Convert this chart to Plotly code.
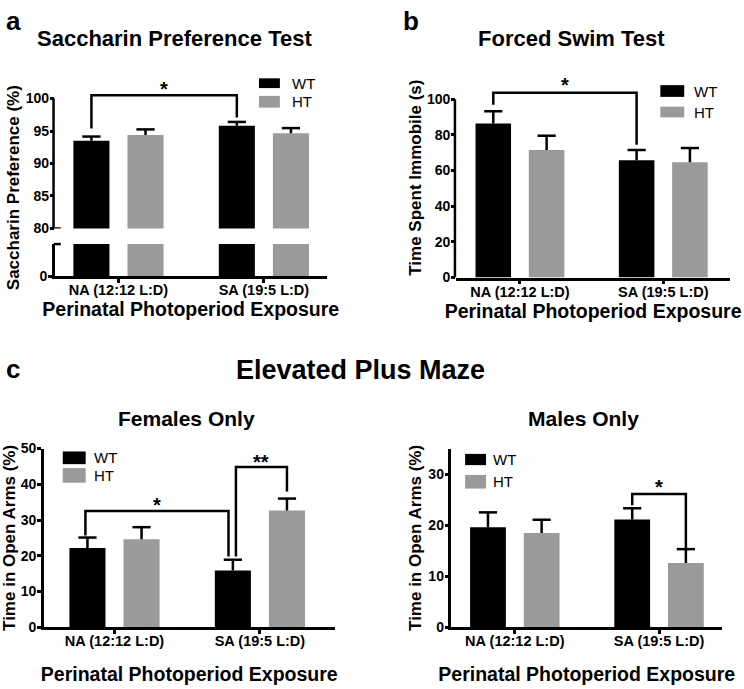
import plotly.graph_objects as go

W, H = 744, 689
FONT = "Liberation Sans, Arial, Helvetica, sans-serif"
BLACK = "#000000"
GRAY = "#9a9a9a"

# ---------------- data ----------------
categories = ["NA (12:12 L:D)", "SA (19:5 L:D)"]
series_names = ["WT", "HT"]

# a: Saccharin Preference Test (%)
sp_wt = [93.5, 95.8]
sp_wt_err = [0.65, 0.6]
sp_ht = [94.4, 94.65]
sp_ht_err = [0.85, 0.8]
sp_ticks_upper = [80, 85, 90, 95, 100]
sp_ticks_lower = [0]

# b: Forced Swim Test (s)
fst_wt = [86.3, 65.7]
fst_wt_err = [6.9, 5.8]
fst_ht = [71.5, 64.6]
fst_ht_err = [8.0, 8.0]
fst_ticks = [0, 20, 40, 60, 80, 100]

# c: Elevated Plus Maze, females (%)
epm_f_wt = [22.2, 15.9]
epm_f_wt_err = [2.9, 3.0]
epm_f_ht = [24.6, 32.7]
epm_f_ht_err = [3.4, 3.3]
epm_f_ticks = [0, 10, 20, 30, 40, 50]

# c: Elevated Plus Maze, males (%)
epm_m_wt = [19.6, 21.1]
epm_m_wt_err = [2.9, 2.2]
epm_m_ht = [18.45, 12.6]
epm_m_ht_err = [2.6, 2.7]
epm_m_ticks = [0, 10, 20, 30]

# significance brackets:
# ((group, series, nudge), (group, series, nudge), top, left end, right end, label, label y)
sp_brackets = [((0, 0, 0), (1, 0, 0), 100.5, 95.4, 97.1, "*", 101.4)]
fst_brackets = [((0, 0, 0), (1, 0, 0), 103.6, 96.9, 74.4, "*", 107.8)]
epm_f_brackets = [((0, 0, -0.014), (1, 0, -0.03), 32.5, 25.7, 19.8, "*", 34.3),
                  ((1, 0, 0.021), (1, 1, 0), 44.8, 19.8, 38.0, "**", 46.2)]
epm_m_brackets = [((1, 0, 0), (1, 1, 0), 26.1, 23.9, 15.3, "*", 27.5)]

# ---------------- layout helpers ----------------
OFF = 0.186
BW = 0.248


def px(x):
    return x / W


def py(y):
    return 1 - y / H


def bx(g, s, nudge=0.0):
    return g + (-OFF if s == 0 else OFF) + nudge


fig = go.Figure()


def add_bars(xa, ya, wt, wt_err, ht, ht_err, errors=True):
    for s, (vals, errs, col, name) in enumerate(
            [(wt, wt_err, BLACK, "WT"), (ht, ht_err, GRAY, "HT")]):
        xs = [bx(g, s) for g in range(len(categories))]
        fig.add_trace(go.Bar(
            x=xs, y=vals, width=BW, marker=dict(color=col, line=dict(width=0)),
            name=name, showlegend=False, xaxis=xa, yaxis=ya,
            error_y=dict(type="data", symmetric=False, array=errs,
                         arrayminus=[0] * len(errs), width=0,
                         thickness=2.5, color=BLACK) if errors else None,
            hovertext=categories, hoverinfo="text+y"))
        if errors:
            fig.add_trace(go.Scatter(
                x=xs, y=[v + e for v, e in zip(vals, errs)], mode="markers",
                marker=dict(symbol="line-ew", size=13,
                            line=dict(width=2.5, color=BLACK)),
                showlegend=False, hoverinfo="skip", xaxis=xa, yaxis=ya,
                cliponaxis=False))


def add_brackets(xa, ya, brackets):
    for (g1, s1, n1), (g2, s2, n2), top, y1, y2, label, ly in brackets:
        x1 = bx(g1, s1, n1)
        x2 = bx(g2, s2, n2)
        fig.add_trace(go.Scatter(
            x=[x1, x1, x2, x2], y=[y1, top, top, y2], mode="lines",
            line=dict(color=BLACK, width=2.5), showlegend=False,
            hoverinfo="skip", xaxis=xa, yaxis=ya, cliponaxis=False))
        fig.add_annotation(x=(x1 + x2) / 2, y=ly, xref=xa, yref=ya,
                           text=label, showarrow=False,
                           font=dict(family=FONT, size=20, color=BLACK,
                                     weight="bold"),
                           xanchor="center", yanchor="middle")


# panel a (broken axis: y upper, y2 lower)
add_bars("x", "y", sp_wt, sp_wt_err, sp_ht, sp_ht_err)
add_bars("x", "y2", sp_wt, sp_wt_err, sp_ht, sp_ht_err, errors=False)
add_brackets("x", "y", sp_brackets)
# panel b
add_bars("x2", "y3", fst_wt, fst_wt_err, fst_ht, fst_ht_err)
add_brackets("x2", "y3", fst_brackets)
# panel c females
add_bars("x3", "y4", epm_f_wt, epm_f_wt_err, epm_f_ht, epm_f_ht_err)
add_brackets("x3", "y4", epm_f_brackets)
# panel c males
add_bars("x4", "y5", epm_m_wt, epm_m_wt_err, epm_m_ht, epm_m_ht_err)
add_brackets("x4", "y5", epm_m_brackets)

tickfont = dict(family=FONT, size=14, color=BLACK, weight="bold")
xtickfont = dict(family=FONT, size=14.5, color=BLACK, weight="bold")
titlefont = dict(family=FONT, size=19.5, color=BLACK, weight="bold")
ytitlefont = dict(family=FONT, size=17, color=BLACK, weight="bold")

common_axis = dict(showline=True, linewidth=2.5, linecolor=BLACK,
                   ticks="outside", ticklen=5, tickwidth=2.5, tickcolor=BLACK,
                   showgrid=False, zeroline=False, tickfont=tickfont,
                   fixedrange=True)


def xaxis(domain, rng, anchor, standoff):
    return dict(common_axis, domain=domain, range=rng, anchor=anchor,
                tickvals=list(range(len(categories))), ticktext=categories,
                tickfont=xtickfont, ticklen=4, ticklabelstandoff=-5,
                title=dict(text="Perinatal Photoperiod Exposure",
                           font=titlefont, standoff=standoff))


def yaxis(domain, rng, anchor, ticks, title=None, standoff=4, line=True):
    d = dict(common_axis, domain=domain, range=rng, anchor=anchor,
             tickvals=ticks, ticklen=4, showline=line, ticklabelstandoff=-2)
    if title:
        d["title"] = dict(text=title, font=ytitlefont, standoff=standoff)
    return d


A_PX = 6.65     # px per % on panel a upper segment
B_PX = 1.827    # px per s on panel b
A_TOP = 102.5
B_TOP = 112

fig.update_layout(
    width=W, height=H, margin=dict(l=0, r=0, t=0, b=0),
    paper_bgcolor="white", plot_bgcolor="white", barmode="overlay",
    showlegend=False, font=dict(family=FONT, color=BLACK),
    xaxis=xaxis([px(52), px(325)], [-0.438, 1.432], "y2", 4),
    yaxis=yaxis([py(225.7), py(225.7 - (A_TOP - 80) * A_PX)], [80, A_TOP], "x",
                sp_ticks_upper, line=False),
    yaxis2=yaxis([py(274.5), py(241.7)], [0, 10], "x", sp_ticks_lower),
    xaxis2=xaxis([px(455), px(730)], [-0.445, 1.466], "y3", 4),
    yaxis3=yaxis([py(276), py(276 - B_TOP * B_PX)], [0, B_TOP], "x2", fst_ticks,
                 "Time Spent Immobile (s)", 1, line=False),
    xaxis3=xaxis([px(41), px(333)], [-0.486, 1.514], "y4", 19),
    yaxis4=yaxis([py(634), py(451)], [0, 50], "x3", epm_f_ticks,
                 "Time in Open Arms (%)", 8.5),
    xaxis4=xaxis([px(450.3), px(722)], [-0.439, 1.437], "y5", 19),
    yaxis5=yaxis([py(634), py(451)], [0, 35], "x4", epm_m_ticks,
                 "Time in Open Arms (%)", 3),
)

# y-axis lines that stop at the top tick (panels a and b)
fig.add_shape(type="line", xref="x domain", yref="y", x0=-0.0046, x1=-0.0046,
              y0=80, y1=100, line=dict(color=BLACK, width=2.5))
fig.add_shape(type="line", xref="x2 domain", yref="y3", x0=-0.0045, x1=-0.0045,
              y0=0, y1=100, line=dict(color=BLACK, width=2.5))

# break marks on panel a axis
fig.add_shape(type="line", xref="x domain", yref="y", x0=-0.012, x1=0.022,
              y0=80, y1=80, line=dict(color=BLACK, width=2.5))
fig.add_shape(type="line", xref="x domain", yref="y2 domain", x0=-0.004, x1=0.022,
              y0=1, y1=1, line=dict(color=BLACK, width=2.5))


def text(x, y, s, size, bold=True, xanchor="center", angle=0):
    fig.add_annotation(x=px(x), y=py(y), xref="paper", yref="paper", text=s,
                       showarrow=False, xanchor=xanchor, yanchor="middle",
                       textangle=angle,
                       font=dict(family=FONT, size=size, color=BLACK,
                                 weight="bold" if bold else "normal"))


# panel letters and titles
text(1, 13, "a", 26, xanchor="left")
text(400, 13, "b", 26, xanchor="left")
text(1, 370, "c", 26, xanchor="left")
text(172.5, 31.5, "Saccharin Preference Test", 22)
text(571, 31.5, "Forced Swim Test", 22)
text(359, 371, "Elevated Plus Maze", 27)
text(184, 420.5, "Females Only", 21)
text(583, 420.5, "Males Only", 21)
text(10, 183.5, "Saccharin Preference (%)", 17, angle=-90)

# legends (drawn per panel)
legends = [
    ((257, 278), (72, 82), (90, 102), 288),
    ((660, 684), (79, 91), (101, 112), 692),
    ((60, 83), (454, 467), (471, 486), 89),
    ((464, 485), (456.5, 468), (478, 492), 490),
]
for (x0, x1), wy, hy, tx in legends:
    for (y0, y1), col, name in [(wy, BLACK, series_names[0]), (hy, GRAY, series_names[1])]:
        fig.add_shape(type="rect", xref="paper", yref="paper",
                      x0=px(x0), x1=px(x1), y0=py(y1), y1=py(y0),
                      fillcolor=col, line=dict(width=0))
        text(tx, (y0 + y1) / 2, name, 15, bold=False, xanchor="left")

fig.write_html("out.html", config={"displayModeBar": False},
               post_script="document.body.style.margin='0';"
                           "document.body.style.overflow='hidden';")
